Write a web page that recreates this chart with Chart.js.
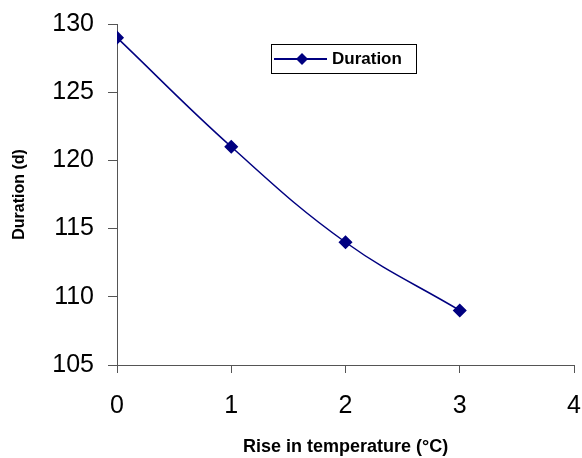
<!DOCTYPE html>
<html>
<head>
<meta charset="utf-8">
<script src="https://cdn.jsdelivr.net/npm/chart.js@4"></script>
<style>
    html, body { margin: 0; padding: 0; background: #fff; }
    #wrap { width: 582px; height: 458px; }
</style>
</head>
<body>
<div id="wrap"><canvas id="chart" width="582" height="458"></canvas></div>
<script>
// data
const tempRise = [0, 1, 2, 3];
const duration = [129, 121, 114, 109];
const xTicks = [0, 1, 2, 3, 4];
const yTicks = [105, 110, 115, 120, 125, 130];

const navy = '#000080';
const fontFam = '"Liberation Sans", Arial, sans-serif';

// legend box drawn inside the plot, like the original
const boxLegend = {
    id: 'boxLegend',
    afterDraw(chart) {
        const ctx = chart.ctx;
        const ds = chart.data.datasets[0];
        const x = 271, y = 44, w = 145, h = 29;
        ctx.save();
        ctx.fillStyle = '#fff';
        ctx.fillRect(x, y, w, h);
        ctx.strokeStyle = '#000';
        ctx.lineWidth = 1;
        ctx.strokeRect(x + 0.5, y + 0.5, w, h);
        // line sample
        ctx.strokeStyle = ds.borderColor;
        ctx.lineWidth = 2;
        ctx.beginPath();
        ctx.moveTo(x + 3, y + 15);
        ctx.lineTo(x + 56, y + 15);
        ctx.stroke();
        // diamond
        ctx.fillStyle = ds.pointBackgroundColor;
        ctx.beginPath();
        ctx.moveTo(x + 31, y + 9);
        ctx.lineTo(x + 37, y + 15);
        ctx.lineTo(x + 31, y + 21);
        ctx.lineTo(x + 25, y + 15);
        ctx.closePath();
        ctx.fill();
        // label
        ctx.fillStyle = '#000';
        ctx.font = 'bold 17px ' + fontFam;
        ctx.textBaseline = 'middle';
        ctx.fillText(ds.label, x + 61, y + 15);
        ctx.restore();
    }
};

new Chart(document.getElementById('chart'), {
    type: 'line',
    data: {
        datasets: [{
            label: 'Duration',
            data: tempRise.map((t, i) => ({ x: t, y: duration[i] })),
            borderColor: navy,
            backgroundColor: navy,
            pointBackgroundColor: navy,
            pointBorderColor: navy,
            borderWidth: 1.5,
            pointStyle: 'rectRot',
            pointRadius: 6,
            tension: 0.4,
            fill: false
        }]
    },
    options: {
        responsive: false,
        animation: false,
        layout: { padding: { top: 24, right: 8, left: 0, bottom: 0 } },
        plugins: {
            legend: { display: false },
            tooltip: { enabled: false }
        },
        scales: {
            x: {
                type: 'linear',
                min: 0,
                max: 4,
                afterBuildTicks: (scale) => { scale.ticks = xTicks.map(v => ({ value: v })); },
                afterFit: (scale) => {
                    scale.height = 93;
                    scale.paddingRight = 0;
                    scale.paddingLeft = 0;
                },
                grid: {
                    drawOnChartArea: false,
                    drawTicks: true,
                    tickLength: 8,
                    color: '#555'
                },
                border: { color: '#555', width: 1 },
                ticks: {
                    color: '#000',
                    padding: 18,
                    font: { family: fontFam, size: 25 }
                },
                title: {
                    display: true,
                    text: 'Rise in temperature (°C)',
                    color: '#000',
                    padding: { top: 8, bottom: 0 },
                    font: { family: fontFam, size: 18, weight: 'bold' }
                }
            },
            y: {
                min: 105,
                max: 130,
                afterBuildTicks: (scale) => { scale.ticks = yTicks.map(v => ({ value: v })); },
                afterFit: (scale) => {
                    scale.width = 117;
                    scale.paddingTop = 0;
                    scale.paddingBottom = 0;
                },
                grid: {
                    drawOnChartArea: false,
                    drawTicks: true,
                    tickLength: 9,
                    color: '#555'
                },
                border: { color: '#555', width: 1 },
                ticks: {
                    color: '#000',
                    padding: 14,
                    font: { family: fontFam, size: 25 }
                },
                title: {
                    display: true,
                    text: 'Duration (d)',
                    color: '#000',
                    padding: { top: 10, bottom: 0 },
                    font: { family: fontFam, size: 16, weight: 'bold' }
                }
            }
        }
    },
    plugins: [boxLegend]
});
</script>
</body>
</html>
